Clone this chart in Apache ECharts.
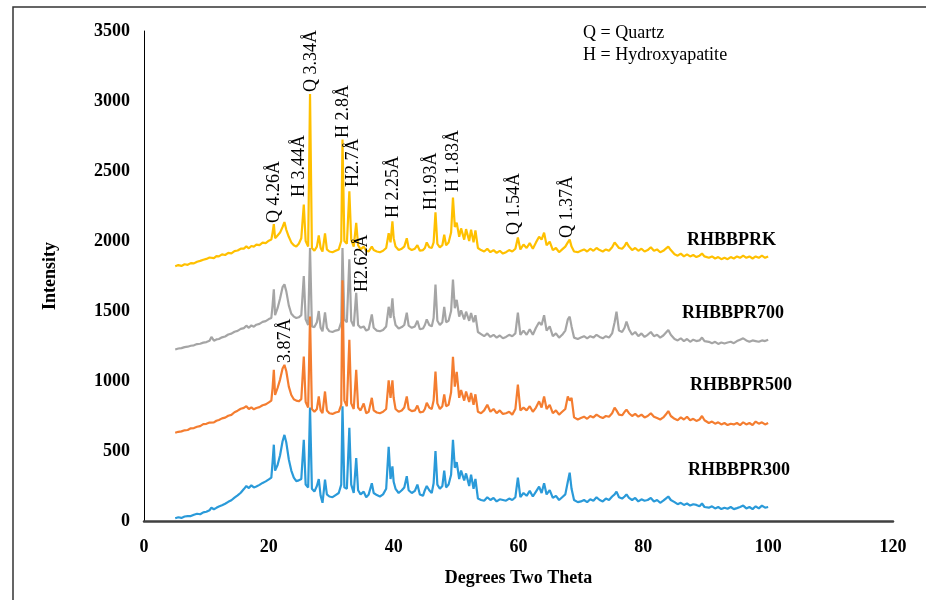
<!DOCTYPE html>
<html>
<head>
<meta charset="utf-8">
<script src="https://cdn.jsdelivr.net/npm/echarts@6/dist/echarts.min.js"></script>
<style>
  html, body { margin: 0; padding: 0; background: #fff; }
  #chart { width: 926px; height: 600px; }
</style>
</head>
<body>
<div id="chart"></div>
<script>
// 2-theta positions, shared by the four patterns (split in segments so rows line up)
var thetaA = [5, 5.5, 6, 6.5, 7, 7.5, 8, 8.5, 9, 9.5,
  10, 10.5, 10.8, 11.2, 11.6, 12, 12.5, 13, 13.5, 14,
  14.5, 15, 15.5, 16, 16.4, 16.8, 17.2, 17.6, 18, 18.5,
  19, 19.5, 20, 20.4];
var thetaB = [20.6, 20.8, 21.0, 21.4, 21.8, 22.2, 22.5, 22.8, 23.2, 23.6,
  24.0, 24.4, 24.8, 25.2, 25.6, 25.9, 26.3, 26.6, 26.9, 27.3,
  27.7, 28.0, 28.3, 28.6, 29.0, 29.3, 29.7, 30.2, 30.7, 31.2,
  31.6, 31.8, 32.1, 32.5, 32.9, 33.2, 33.6, 34.0, 34.3, 34.7,
  35.2, 35.6, 36.0, 36.5, 36.8, 37.3, 37.8, 38.3, 38.8, 39.2,
  39.5, 39.8, 40.0, 40.3, 40.8, 41.3, 41.7, 42.1, 42.4, 42.9,
  43.4, 43.8, 44.2, 44.7, 45.0, 45.3, 45.7, 46.1, 46.4, 46.7,
  47.0, 47.4, 47.8, 48.1, 48.4, 48.8, 49.2, 49.5, 49.8, 50.1,
  50.5, 50.8, 51.3, 51.6, 52.1, 52.4, 52.8, 53.1, 53.5, 54.0];
var thetaC = [54.5, 55.0, 55.5, 56.0, 56.5, 57.0, 57.5, 58.0, 58.5, 59.0,
  59.5, 59.9, 60.3, 60.8, 61.3, 61.8, 62.3, 62.8, 63.3, 63.7,
  64.1, 64.5, 65.0, 65.5, 66.0, 66.5, 67.0, 67.5, 67.9, 68.2,
  68.5, 68.9, 69.5];
var thetaD = [70, 70.5, 71, 71.5, 72, 72.5, 73, 73.5, 74, 74.5,
  75, 75.4, 75.7, 76.1, 76.6, 77.0, 77.3, 77.7, 78.2, 78.7,
  79.2, 79.7, 80.2, 80.7, 81.2, 81.7, 82.2, 82.7, 83.2, 83.6,
  84.0, 84.4, 85, 85.5, 86, 86.5, 87, 87.5, 88, 88.5,
  89, 89.4, 89.8, 90.5, 91, 91.5, 92, 92.5, 93, 93.5,
  94, 94.5, 95, 95.5, 96, 96.5, 97, 97.5, 98, 98.5,
  99, 99.5, 100];

// RHBBPRK (yellow)
var rkA = [1820, 1828, 1822, 1834, 1830, 1842, 1840, 1852, 1858, 1866,
  1872, 1882, 1886, 1878, 1892, 1890, 1904, 1900, 1915, 1912,
  1928, 1932, 1945, 1946, 1962, 1948, 1964, 1960, 1974, 1970,
  1988, 1985, 2002, 2010];
var rkB = [2060, 2120, 2020, 2040, 2060, 2100, 2135, 2080, 2030, 1990,
  1970, 1960, 1980, 2020, 2260, 2000, 1960, 3050, 1950, 1930,
  1960, 2040, 1950, 1925, 2055, 1940, 1925, 1920, 1930, 1940,
  2000, 2725, 2000, 1980, 2355, 2010, 1960, 2130, 1970, 1940,
  1960, 1930, 1925, 1960, 1935, 1925, 1920, 1930, 1950, 2055,
  1990, 2140, 2020, 1960, 1935, 1945, 1960, 2020, 1950, 1935,
  1945, 1970, 1930, 1935, 1950, 1990, 1955, 1950, 1990, 2205,
  1980, 1955, 1970, 2045, 1970, 1990, 2060, 2310, 2100, 2130,
  2030, 2090, 2010, 2085, 2000, 2080, 1990, 2075, 1950, 1935];
var rkC = [1925, 1945, 1920, 1935, 1915, 1930, 1910, 1920, 1935, 1925,
  1945, 2025, 1940, 1975, 1950, 1985, 1945, 1990, 2030, 2010,
  2060, 1970, 1995, 1935, 1950, 1920, 1940, 1960, 1990, 2010,
  1960, 1925, 1920];
var rkD = [1930, 1940, 1925, 1945, 1930, 1950, 1935, 1925, 1940, 1930,
  1955, 1990, 2000, 1950, 1945, 1965, 1990, 1960, 1935, 1950,
  1930, 1945, 1925, 1935, 1955, 1930, 1940, 1920, 1930, 1945,
  1960, 1935, 1905, 1895, 1910, 1890, 1905, 1890, 1900, 1885,
  1895, 1910, 1890, 1880, 1890, 1875, 1885, 1870, 1880, 1870,
  1885, 1875, 1890, 1880, 1895, 1880, 1890, 1875, 1890, 1880,
  1895, 1880, 1890];

// RHBBPR700 (grey)
var r700A = [1225, 1232, 1235, 1242, 1245, 1252, 1255, 1264, 1266, 1274,
  1278, 1287, 1315, 1288, 1297, 1300, 1312, 1318, 1332, 1338,
  1352, 1358, 1372, 1378, 1395, 1380, 1397, 1388, 1402, 1408,
  1422, 1428, 1442, 1450];
var r700B = [1540, 1655, 1470, 1520, 1590, 1670, 1690, 1640, 1540, 1480,
  1460, 1450, 1455, 1470, 1750, 1440, 1400, 1950, 1390, 1385,
  1420, 1500, 1380, 1355, 1490, 1380, 1355, 1350, 1360, 1365,
  1420, 1950, 1440, 1420, 1870, 1430, 1390, 1630, 1400, 1380,
  1390, 1360, 1370, 1475, 1380, 1360, 1355, 1365, 1390, 1530,
  1450, 1590, 1470, 1400, 1375, 1385, 1400, 1488, 1395, 1380,
  1390, 1430, 1370, 1375, 1400, 1440, 1400, 1390, 1450, 1688,
  1430, 1400, 1420, 1530, 1420, 1430, 1500, 1725, 1520, 1580,
  1460, 1505, 1440, 1495, 1430, 1485, 1420, 1470, 1350, 1335];
var r700C = [1320, 1340, 1315, 1330, 1310, 1325, 1305, 1315, 1330, 1320,
  1340, 1488, 1330, 1360, 1330, 1370, 1330, 1380, 1420, 1400,
  1470, 1360, 1390, 1320, 1340, 1310, 1330, 1360, 1440, 1460,
  1390, 1310, 1300];
var r700D = [1310, 1320, 1305, 1320, 1310, 1330, 1315, 1305, 1320, 1310,
  1340, 1420, 1495, 1360, 1350, 1380, 1425, 1370, 1330, 1350,
  1320, 1340, 1315, 1330, 1350, 1320, 1330, 1310, 1325, 1345,
  1365, 1330, 1300, 1290, 1305, 1285, 1300, 1280, 1295, 1285,
  1290, 1310, 1285, 1280, 1270, 1280, 1265, 1275, 1268, 1275,
  1280, 1270, 1285, 1295, 1305, 1290, 1280, 1290, 1285, 1280,
  1290, 1285, 1295];

// RHBBPR500 (orange)
var r500A = [630, 637, 640, 648, 650, 662, 664, 673, 678, 692,
  694, 703, 715, 704, 716, 722, 733, 738, 752, 758,
  777, 788, 802, 808, 820, 800, 812, 798, 807, 813,
  827, 833, 847, 860];
var r500B = [950, 1080, 900, 950, 1010, 1090, 1115, 1070, 960, 900,
  870, 860, 855, 870, 1175, 850, 810, 1460, 800, 780,
  800, 890, 790, 770, 925, 790, 770, 765, 775, 780,
  830, 1720, 860, 820, 1295, 840, 800, 1080, 810, 790,
  840, 770, 780, 880, 790, 775, 770, 780, 800, 1005,
  880, 1005, 880, 800, 780, 790, 810, 890, 800, 785,
  790, 825, 775, 780, 800, 845, 810, 800, 860, 1068,
  840, 800, 820, 905, 820, 830, 920, 1172, 960, 1065,
  880, 935, 860, 925, 850, 915, 830, 905, 780, 770];
var r500C = [790, 830, 780, 800, 770, 790, 765, 770, 780, 760,
  800, 975, 790, 810, 790, 820, 780, 810, 855, 810,
  890, 800, 830, 770, 790, 760, 780, 800, 890, 860,
  880, 740, 725];
var r500D = [735, 745, 730, 750, 740, 760, 745, 735, 750, 745,
  770, 810, 790, 760, 755, 780, 795, 770, 750, 765,
  745, 760, 740, 750, 770, 745, 735, 725, 740, 760,
  785, 750, 730, 720, 740, 725, 745, 720, 730, 715,
  725, 750, 720, 700, 710, 695, 705, 690, 700, 685,
  695, 690, 700, 685, 705, 690, 700, 685, 710, 695,
  705, 690, 700];

// RHBBPR300 (blue)
var r300A = [20, 27, 22, 32, 35, 35, 45, 52, 48, 62,
  66, 77, 95, 84, 94, 103, 112, 123, 137, 148,
  167, 183, 202, 228, 250, 235, 255, 240, 247, 258,
  272, 283, 297, 310];
var r300B = [420, 545, 360, 400, 470, 570, 615, 560, 440, 360,
  310, 285, 290, 300, 580, 260, 240, 810, 230, 210,
  250, 300, 180, 130, 295, 190, 175, 170, 185, 200,
  260, 820, 240, 230, 665, 260, 200, 450, 220, 190,
  210, 170, 190, 270, 200, 185, 175, 190, 230, 530,
  300, 390, 280, 230, 200, 220, 240, 320, 220, 200,
  215, 260, 190, 180, 220, 250, 220, 200, 270, 500,
  260, 230, 250, 360, 240, 260, 330, 580, 380, 420,
  300, 360, 290, 340, 250, 330, 230, 300, 160, 150];
var r300C = [145, 170, 150, 165, 140, 155, 150, 145, 160, 150,
  170, 310, 170, 200, 180, 215, 175, 210, 245, 200,
  270, 190, 220, 165, 180, 150, 170, 190, 280, 345,
  230, 150, 135];
var r300D = [140, 150, 135, 155, 145, 170, 150, 140, 160, 150,
  175, 190, 210, 170, 160, 175, 190, 165, 150, 165,
  140, 155, 145, 150, 165, 140, 150, 130, 145, 160,
  175, 150, 135, 120, 130, 115, 125, 110, 120, 115,
  105, 125, 100, 95, 105, 90, 100, 85, 95, 88,
  100, 85, 92, 100, 110, 90, 100, 85, 105, 90,
  110, 95, 100];

var theta = thetaA.concat(thetaB, thetaC, thetaD);
var rk = rkA.concat(rkB, rkC, rkD);
var r700 = r700A.concat(r700B, r700C, r700D);
var r500 = r500A.concat(r500B, r500C, r500D);
var r300 = r300A.concat(r300B, r300C, r300D);

// peak annotations: text, 2-theta, intensity at the foot of the text
var peakText = ['Q 4.26Å', 'H 3.44Å', 'Q 3.34Å', 'H 2.8Å', 'H2.7Å', 'H2.62Å',
  'H 2.25Å', 'H1.93Å', 'H 1.83Å', 'Q 1.54Å', 'Q 1.37Å', '3.87Å'];
var peakX = [20.8, 24.8, 26.8, 32.0, 33.6, 34.9, 40.0, 46.1, 49.5, 59.3, 67.8, 22.7];
var peakY = [2129, 2314, 3064, 2736, 2386, 1636, 2164, 2221, 2350, 2043, 2021, 1129];

function pairs(ys) {
  var out = [];
  for (var i = 0; i < theta.length; i++) {
    out.push([theta[i], ys[i]]);
  }
  return out;
}

var serif = '"Liberation Serif", "Times New Roman", serif';
var chart = echarts.init(document.getElementById('chart'));

function line(name, color, ys) {
  return {
    name: name,
    type: 'line',
    data: pairs(ys),
    showSymbol: false,
    symbol: 'none',
    animation: false,
    lineStyle: {color: color, width: 2.2},
    itemStyle: {color: color}
  };
}

chart.setOption({
  animation: false,
  grid: {left: 144, right: 33, top: 31, bottom: 79},
  xAxis: {
    type: 'value',
    min: 0,
    max: 120,
    interval: 20,
    name: 'Degrees Two Theta',
    nameLocation: 'middle',
    nameGap: 48,
    nameTextStyle: {fontFamily: serif, fontWeight: 'bold', fontSize: 18, color: '#000'},
    axisLine: {show: true, onZero: false, lineStyle: {color: '#404040', width: 2.5}},
    axisTick: {show: false},
    splitLine: {show: false},
    axisLabel: {fontFamily: serif, fontWeight: 'bold', fontSize: 18, color: '#000', margin: 17}
  },
  yAxis: {
    type: 'value',
    min: 0,
    max: 3500,
    interval: 500,
    name: 'Intensity',
    nameLocation: 'middle',
    nameRotate: 90,
    nameGap: 85,
    nameTextStyle: {fontFamily: serif, fontWeight: 'bold', fontSize: 18, color: '#000'},
    axisLine: {show: true, lineStyle: {color: '#000', width: 1}},
    axisTick: {show: false},
    splitLine: {show: false},
    axisLabel: {fontFamily: serif, fontWeight: 'bold', fontSize: 18, color: '#000', margin: 14,
      formatter: function (v) { return String(v); }}
  },
  series: [
    line('RHBBPR700', '#A5A5A5', r700),
    line('RHBBPRK', '#FFC000', rk),
    line('RHBBPR300', '#2A9AD9', r300),
    line('RHBBPR500', '#F47D30', r500)
  ]
});

// overlay texts: frame, legend note, series names, rotated peak labels
var g = [
  {type: 'rect', shape: {x: 13, y: 7, width: 930, height: 610},
    style: {fill: 'none', stroke: '#333', lineWidth: 1.5}, silent: true},
  {type: 'text', x: 583, y: 33, style: {text: 'Q = Quartz', font: '18px ' + serif, fill: '#000', textVerticalAlign: 'middle', verticalAlign: 'middle'}},
  {type: 'text', x: 583, y: 55, style: {text: 'H = Hydroxyapatite', font: '18px ' + serif, fill: '#000', textVerticalAlign: 'middle', verticalAlign: 'middle'}},
  {type: 'text', x: 687, y: 240, style: {text: 'RHBBPRK', font: 'bold 18px ' + serif, fill: '#000', textVerticalAlign: 'middle', verticalAlign: 'middle'}},
  {type: 'text', x: 682, y: 313, style: {text: 'RHBBPR700', font: 'bold 18px ' + serif, fill: '#000', textVerticalAlign: 'middle', verticalAlign: 'middle'}},
  {type: 'text', x: 690, y: 385, style: {text: 'RHBBPR500', font: 'bold 18px ' + serif, fill: '#000', textVerticalAlign: 'middle', verticalAlign: 'middle'}},
  {type: 'text', x: 688, y: 470, style: {text: 'RHBBPR300', font: 'bold 18px ' + serif, fill: '#000', textVerticalAlign: 'middle', verticalAlign: 'middle'}}
];
for (var i = 0; i < peakText.length; i++) {
  var p = chart.convertToPixel({gridIndex: 0}, [peakX[i], peakY[i]]);
  g.push({
    type: 'text',
    x: p[0],
    y: p[1],
    rotation: Math.PI / 2,
    z: 100,
    style: {text: peakText[i], font: '18px ' + serif, fill: '#000',
      textAlign: 'left', align: 'left', textVerticalAlign: 'middle', verticalAlign: 'middle'}
  });
}
chart.setOption({graphic: g});
</script>
</body>
</html>
